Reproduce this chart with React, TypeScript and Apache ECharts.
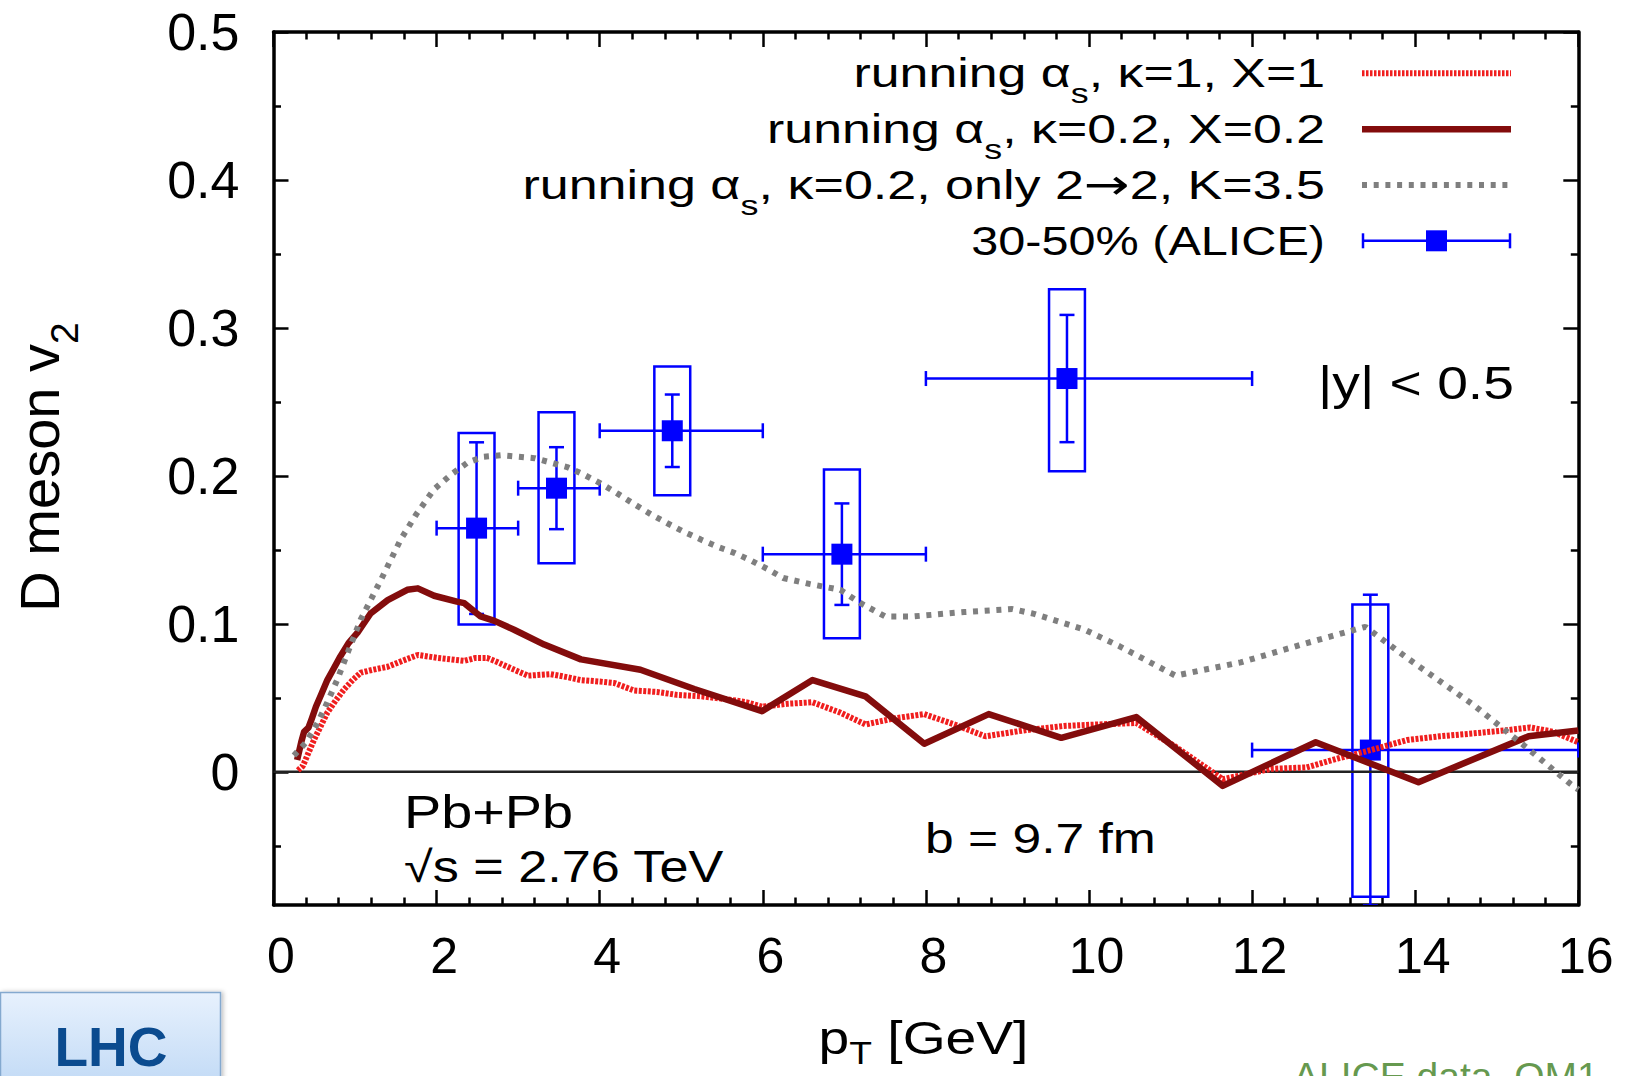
import React, { useEffect, useRef } from "react";
import * as echarts from "echarts";

const FONT = '"Liberation Sans", Arial, Helvetica, sans-serif';
const ARROW_FONT = '"DejaVu Sans", "Liberation Sans", sans-serif';
const BLUE = "#0000ff";
const RED = "#f01e1e";
const DARK_RED = "#830c0c";
const GRAY = "#7f7f7f";

// axis ranges
const PT_MIN = 0;
const PT_MAX = 16;
const PT_STEP = 2;
const V2_MIN = -0.09;
const V2_MAX = 0.5;
const v2MajorTicks = [0, 0.1, 0.2, 0.3, 0.4, 0.5];
const v2MinorTicks = [-0.05, 0.05, 0.15, 0.25, 0.35, 0.45];

// legend entries as [rich style, text] runs: m = normal, s = subscript, a = arrow
const legendParts: [string, string][][] = [
  [["m", "running α"], ["s", "s"], ["m", ", κ=1, X=1"]],
  [["m", "running α"], ["s", "s"], ["m", ", κ=0.2, X=0.2"]],
  [["m", "running α"], ["s", "s"], ["m", ", κ=0.2, only 2"], ["a", "→"], ["m", "2, K=3.5"]],
  [["m", "30-50% (ALICE)"]],
];

// model curves: [pT (GeV), v2]
const kappa1X1: [number, number][] = [
  [0.3, 0.001], [0.36, 0.004], [0.43, 0.013], [0.5, 0.022], [0.58, 0.031], [0.66, 0.04],
  [0.76, 0.048], [0.87, 0.056], [0.97, 0.062], [1.07, 0.067], [1.22, 0.069], [1.4, 0.071],
  [1.58, 0.075], [1.77, 0.079], [2.01, 0.077], [2.18, 0.076], [2.34, 0.075], [2.48, 0.077],
  [2.62, 0.077], [2.75, 0.074], [2.87, 0.071], [3.12, 0.065], [3.4, 0.066], [3.6, 0.064],
  [3.77, 0.062], [4.0, 0.061], [4.18, 0.06], [4.42, 0.055], [4.7, 0.054], [4.95, 0.052],
  [5.25, 0.051], [5.57, 0.049], [5.8, 0.047], [5.99, 0.044], [6.3, 0.046], [6.61, 0.047],
  [6.95, 0.04], [7.26, 0.032], [7.6, 0.036], [7.98, 0.039], [8.35, 0.032], [8.73, 0.024],
  [9.2, 0.028], [9.69, 0.031], [10.1, 0.032], [10.58, 0.033], [11.06, 0.017], [11.64, -0.005],
  [12.23, 0.002], [12.67, 0.003], [13.05, 0.009], [13.41, 0.014], [13.9, 0.0215], [14.3, 0.024],
  [14.72, 0.026], [15.1, 0.028], [15.41, 0.03], [15.7, 0.027], [16.0, 0.02],
];

const kappa02X02: [number, number][] = [
  [0.29, 0.008], [0.34, 0.02], [0.375, 0.027], [0.43, 0.03], [0.47, 0.036], [0.52, 0.044],
  [0.59, 0.053], [0.66, 0.062], [0.74, 0.07], [0.82, 0.078], [0.92, 0.087], [1.03, 0.094],
  [1.19, 0.107], [1.4, 0.116], [1.64, 0.123], [1.77, 0.124], [1.97, 0.119], [2.25, 0.115],
  [2.34, 0.114], [2.54, 0.105], [2.71, 0.102], [2.95, 0.096], [3.32, 0.086], [3.77, 0.076],
  [4.5, 0.069], [5.16, 0.056], [5.99, 0.041], [6.61, 0.062], [7.26, 0.051], [7.98, 0.019],
  [8.77, 0.039], [9.66, 0.023], [10.58, 0.037], [11.64, -0.0095], [12.78, 0.02], [14.04, -0.007],
  [15.39, 0.024], [16.0, 0.028],
];

const kappa02Only22: [number, number][] = [
  [0.25, 0.011], [0.4, 0.02], [0.54, 0.033], [0.66, 0.047], [0.78, 0.062], [0.92, 0.082],
  [1.07, 0.103], [1.2, 0.117], [1.32, 0.13], [1.56, 0.157], [1.75, 0.174], [1.97, 0.191],
  [2.18, 0.201], [2.38, 0.209], [2.58, 0.213], [2.79, 0.214], [3.0, 0.213], [3.2, 0.212],
  [3.4, 0.209], [3.6, 0.206], [3.8, 0.201], [4.01, 0.195], [4.22, 0.188], [4.42, 0.181],
  [4.63, 0.174], [4.83, 0.168], [5.04, 0.162], [5.24, 0.157], [5.45, 0.152], [5.65, 0.148],
  [5.85, 0.143], [6.06, 0.137], [6.25, 0.131], [6.57, 0.127], [6.95, 0.123], [7.2, 0.114],
  [7.5, 0.105], [7.84, 0.105], [8.47, 0.108], [9.06, 0.11], [9.31, 0.107], [9.95, 0.096],
  [10.37, 0.085], [11.06, 0.065], [11.86, 0.074], [12.67, 0.087], [13.39, 0.098], [13.9, 0.077],
  [14.72, 0.045], [15.33, 0.018], [15.9, -0.008], [16.0, -0.012],
];

const zeroLine: [number, number][] = [[PT_MIN, 0], [PT_MAX, 0]];

// ALICE D-meson v2, 30-50%
const alicePt = [2.49, 3.47, 4.89, 6.97, 9.73, 13.45];
const aliceV2 = [0.1647, 0.1917, 0.2305, 0.1471, 0.2658, 0.0147];
const alicePtLow = [2, 3, 4, 6, 8, 12];
const alicePtHigh = [3, 4, 6, 8, 12, 16];
const aliceStat = [0.058, 0.0277, 0.0245, 0.0343, 0.043, 0.105];
const aliceSysLow = [0.0995, 0.141, 0.187, 0.0902, 0.2032, -0.0844];
const aliceSysHigh = [0.229, 0.243, 0.274, 0.2043, 0.3261, 0.1131];

// half width of a systematic box, in GeV
const SYS_BOX_HALF = 0.22;
const CAP = 7.5;

const aliceData = alicePt.map((pt, i) => [
  pt, aliceV2[i], alicePtLow[i], alicePtHigh[i], aliceStat[i], aliceSysLow[i], aliceSysHigh[i],
]);

function renderAlice(_params: any, api: any) {
  const x = api.value(0);
  const y = api.value(1);
  const xl = api.value(2);
  const xh = api.value(3);
  const st = api.value(4);
  const sl = api.value(5);
  const sh = api.value(6);
  const c = api.coord([x, y]);
  const l = api.coord([xl, y]);
  const r = api.coord([xh, y]);
  const t = api.coord([x, y + st]);
  const b = api.coord([x, y - st]);
  const b0 = api.coord([x - SYS_BOX_HALF, sh]);
  const b1 = api.coord([x + SYS_BOX_HALF, sl]);
  const ls = { stroke: BLUE, lineWidth: 2.5, fill: "none" };
  const sq = 21;
  return {
    type: "group",
    children: [
      { type: "rect", shape: { x: b0[0], y: b0[1], width: b1[0] - b0[0], height: b1[1] - b0[1] }, style: ls },
      { type: "line", shape: { x1: l[0], y1: c[1], x2: r[0], y2: c[1] }, style: ls },
      { type: "line", shape: { x1: l[0], y1: c[1] - CAP, x2: l[0], y2: c[1] + CAP }, style: ls },
      { type: "line", shape: { x1: r[0], y1: c[1] - CAP, x2: r[0], y2: c[1] + CAP }, style: ls },
      { type: "line", shape: { x1: c[0], y1: t[1], x2: c[0], y2: b[1] }, style: ls },
      { type: "line", shape: { x1: c[0] - CAP, y1: t[1], x2: c[0] + CAP, y2: t[1] }, style: ls },
      { type: "line", shape: { x1: c[0] - CAP, y1: b[1], x2: c[0] + CAP, y2: b[1] }, style: ls },
      { type: "rect", shape: { x: c[0] - sq / 2, y: c[1] - sq / 2, width: sq, height: sq }, style: { fill: BLUE } },
    ],
  };
}

// rich text from [style, text] runs; "s" runs are set as subscripts
function richText(runs: [string, string][], size: number, subSize: number, shift: number) {
  const lh = Math.round(size * 1.25);
  return {
    text: runs.map(([k, t]) => `{${k}|${t}}`).join(""),
    rich: {
      m: { fontSize: size, fontFamily: FONT, fill: "#000", lineHeight: lh },
      a: { fontSize: size * 1.05, fontFamily: ARROW_FONT, fill: "#000", lineHeight: lh },
      s: { fontSize: subSize, fontFamily: FONT, fill: "#000", lineHeight: lh, padding: [shift * 2, 0, 0, 0] },
    },
  };
}

function textEl(x: number, y: number, style: any, align: string, extra: any = {}) {
  return {
    type: "text",
    x,
    y,
    ...extra,
    style: {
      ...style,
      align,
      textAlign: align,
      verticalAlign: "middle",
      textVerticalAlign: "middle",
    },
  };
}

function plainText(x: number, y: number, text: string, size: number, align = "left", scaleX = 1.2) {
  return textEl(x, y, { text, fontSize: size, fontFamily: FONT, fill: "#000" }, align, { scaleX });
}

const legendRowY = [73.3, 129.3, 185, 240.8];
const legendScale = [1.28, 1.28, 1.285, 1.2];
const sampleX1 = 1362;
const sampleX2 = 1511;

const legendGraphics: any[] = [];
legendParts.forEach((runs, i) => {
  legendGraphics.push(
    textEl(1325, legendRowY[i], richText(runs, 40.5, 28, 20), "right", { scaleX: legendScale[i] })
  );
});
legendGraphics.push(
  { type: "line", shape: { x1: sampleX1, y1: legendRowY[0], x2: sampleX2, y2: legendRowY[0] }, style: { stroke: RED, lineWidth: 6, lineDash: [2.5, 1.5] } },
  { type: "line", shape: { x1: sampleX1, y1: legendRowY[1], x2: sampleX2, y2: legendRowY[1] }, style: { stroke: DARK_RED, lineWidth: 6.5 } },
  { type: "line", shape: { x1: sampleX1, y1: legendRowY[2], x2: sampleX2, y2: legendRowY[2] }, style: { stroke: GRAY, lineWidth: 6, lineDash: [5, 6.7] } },
  { type: "line", shape: { x1: sampleX1, y1: legendRowY[3], x2: sampleX2, y2: legendRowY[3] }, style: { stroke: BLUE, lineWidth: 2.5 } },
  { type: "line", shape: { x1: sampleX1 + 1, y1: legendRowY[3] - CAP, x2: sampleX1 + 1, y2: legendRowY[3] + CAP }, style: { stroke: BLUE, lineWidth: 2.5 } },
  { type: "line", shape: { x1: sampleX2 - 1, y1: legendRowY[3] - CAP, x2: sampleX2 - 1, y2: legendRowY[3] + CAP }, style: { stroke: BLUE, lineWidth: 2.5 } },
  { type: "rect", shape: { x: (sampleX1 + sampleX2) / 2 - 10.5, y: legendRowY[3] - 10.5, width: 21, height: 21 }, style: { fill: BLUE } }
);

const axisLineStyle = { color: "#000", width: 3.5 };
const tickLineStyle = { color: "#000", width: 2.5 };

const xAxisBase = {
  type: "value",
  min: PT_MIN,
  max: PT_MAX,
  interval: PT_STEP,
  axisLine: { show: true, onZero: false, lineStyle: axisLineStyle },
  axisTick: { show: true, inside: true, length: 15, lineStyle: tickLineStyle },
  minorTick: { show: true, splitNumber: 5, length: 7.5, lineStyle: tickLineStyle },
  splitLine: { show: false },
  minorSplitLine: { show: false },
};

const yAxisBase = {
  type: "value",
  min: V2_MIN,
  max: V2_MAX,
  splitLine: { show: false },
};

function yAxis(position: string, minor: boolean, labels: boolean) {
  return {
    ...yAxisBase,
    position,
    axisLine: { show: !minor, onZero: false, lineStyle: axisLineStyle },
    axisTick: {
      show: true,
      inside: true,
      length: minor ? 7.5 : 15,
      customValues: minor ? v2MinorTicks : v2MajorTicks,
      lineStyle: tickLineStyle,
    },
    axisLabel: labels
      ? {
          show: true,
          customValues: v2MajorTicks,
          formatter: (v: number) => String(v),
          color: "#000",
          fontSize: 52,
          fontFamily: FONT,
          margin: 34,
        }
      : { show: false },
  };
}

const option: any = {
  animation: false,
  backgroundColor: "#ffffff",
  grid: { left: 273.5, right: 47.7, top: 32, bottom: 171, containLabel: false, outerBoundsMode: "none" },
  xAxis: [
    {
      ...xAxisBase,
      position: "bottom",
      axisLabel: { show: true, color: "#000", fontSize: 50, fontFamily: FONT, margin: 26, padding: [0, 0, 0, 15] },
    },
    { ...xAxisBase, position: "top", axisLabel: { show: false } },
  ],
  yAxis: [yAxis("left", false, true), yAxis("left", true, false), yAxis("right", false, false), yAxis("right", true, false)],
  series: [
    {
      type: "line",
      name: "zero",
      data: zeroLine,
      symbol: "none",
      silent: true,
      lineStyle: { color: "#222", width: 2.5 },
    },
    {
      type: "line",
      name: "running αs, κ=1, X=1",
      data: kappa1X1,
      symbol: "none",
      clip: true,
      lineStyle: { color: RED, width: 6, type: [3, 1.5] },
    },
    {
      type: "line",
      name: "running αs, κ=0.2, X=0.2",
      data: kappa02X02,
      symbol: "none",
      clip: true,
      lineStyle: { color: DARK_RED, width: 6.5, join: "round" },
    },
    {
      type: "line",
      name: "running αs, κ=0.2, only 2→2, K=3.5",
      data: kappa02Only22,
      symbol: "none",
      clip: true,
      lineStyle: { color: GRAY, width: 6, type: [5, 6.7] },
    },
    {
      type: "custom",
      name: "30-50% (ALICE)",
      data: aliceData,
      clip: true,
      renderItem: renderAlice,
      encode: { x: 0, y: 1 },
    },
  ],
  graphic: {
    elements: [
      ...legendGraphics,
      plainText(1318, 383, "|y| < 0.5", 46),
      plainText(404, 812, "Pb+Pb", 46.5),
      plainText(404, 867, "√s = 2.76 TeV", 43.5),
      plainText(925, 838, "b = 9.7 fm", 43),
      // axis titles
      textEl(923.5, 1038, richText([["m", "p"], ["s", "T"], ["m", " [GeV]"]], 46, 31, 15), "center", { scaleX: 1.2 }),
      textEl(39, 467, richText([["m", "D meson v"], ["s", "2"]], 56, 39, 25), "center", { rotation: Math.PI / 2 }),
      // LHC tag
      {
        type: "rect",
        shape: { x: 0.5, y: 992.5, width: 220, height: 90 },
        style: {
          fill: new echarts.graphic.LinearGradient(0, 0, 0, 1, [
            { offset: 0, color: "#e7f1fd" },
            { offset: 1, color: "#c3dbf6" },
          ]),
          stroke: "#84a9cf",
          lineWidth: 1.5,
          shadowBlur: 4,
          shadowOffsetX: 2,
          shadowColor: "rgba(0,0,0,0.25)",
        },
      },
      textEl(111, 1047, { text: "LHC", fontSize: 55, fontWeight: "bold", fontFamily: FONT, fill: "#0b4b8f" }, "center"),
      textEl(1293, 1076, { text: "ALICE data, QM1", fontSize: 39, fontFamily: FONT, fill: "#66994f" }, "left"),
    ],
  },
};

export default function App() {
  const ref = useRef<HTMLDivElement>(null);
  useEffect(() => {
    if (!ref.current) return;
    const chart = echarts.init(ref.current, undefined, { renderer: "svg" });
    chart.setOption(option);
    return () => {
      chart.dispose();
    };
  }, []);
  return (
    <div
      ref={ref}
      style={{ position: "fixed", left: 0, top: 0, width: 1626, height: 1076, background: "#fff" }}
    />
  );
}
